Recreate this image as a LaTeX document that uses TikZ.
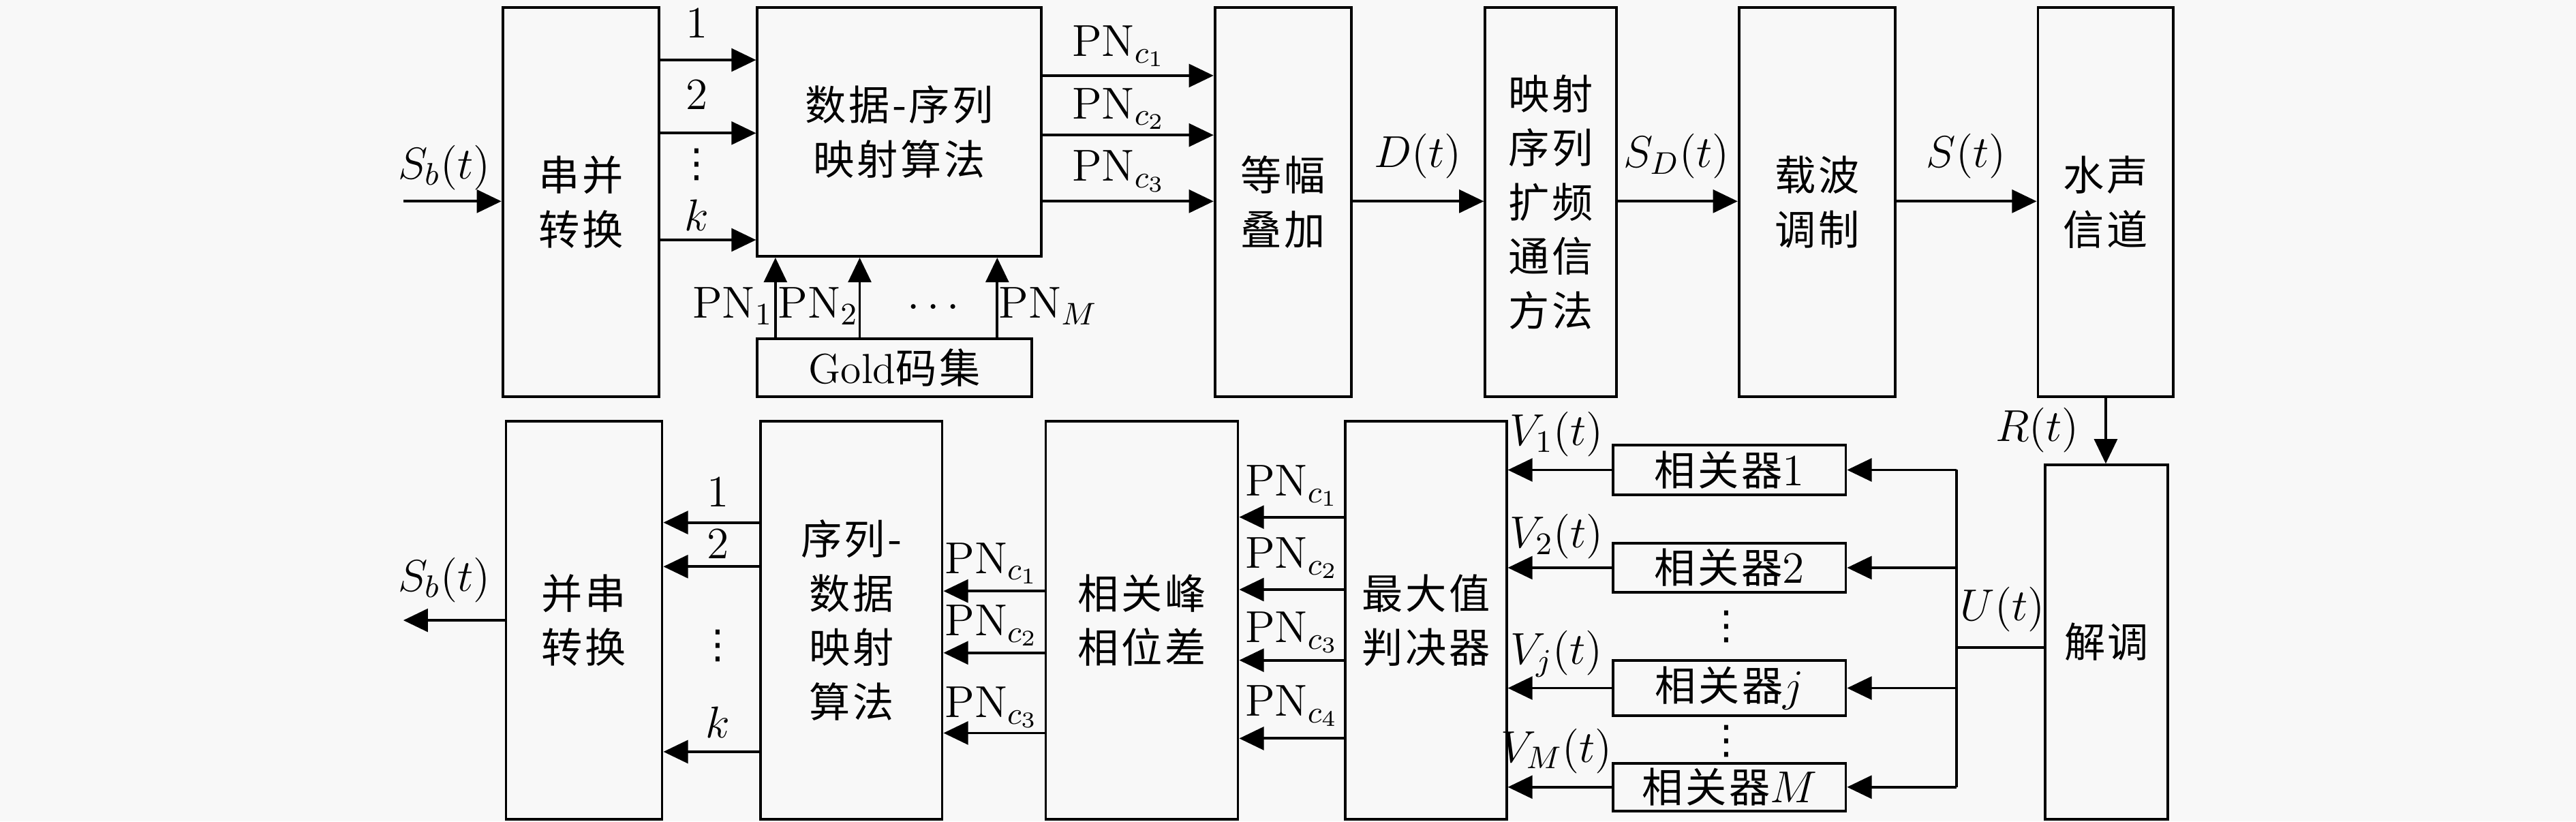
\RequirePackage{fix-cm}
\documentclass[tikz,border=0pt]{standalone}
\usepackage{fontspec}
\usetikzlibrary{arrows.meta}
\newfontfamily\cjkfam[LetterSpace=6]{Noto Sans CJK SC}
\newfontfamily\symfam{DejaVu Sans}
\newcommand\cjkfont{\fontsize{12.5}{16.5}\selectfont\cjkfam}
\newcommand\latfont{\fontsize{13.6}{16}\selectfont}
\newcommand\vdotsym{{\symfam\fontsize{12}{12}\selectfont ⋮}}
\definecolor{bgc}{RGB}{248,248,248}
\begin{document}
\begin{tikzpicture}[x=0.5pt,y=-0.5pt,
 box/.style={draw, line width=0.8pt, inner sep=0pt, align=center, font=\cjkfont},
 arr/.style={-{Triangle[length=7.5pt,width=7pt]}, line width=0.8pt},
 wire/.style={line width=0.8pt},
 lab/.style={inner sep=0pt, anchor=base, font=\latfont},
 dots/.style={inner sep=0pt}]
\fill[bgc] (0,0) rectangle (1568,500);
\useasboundingbox (0,0) rectangle (1568,500);

% ---- top row boxes
\node[box, minimum width=47.5pt, minimum height=118.5pt] (sp) at (353.5,123) {串并\\转换};
\node[box, minimum width=86.5pt, minimum height=75.75pt] (map) at (547.5,80.25) {数据-序列\\映射算法};
\node[box, minimum width=83.5pt, minimum height=17.75pt] (gold) at (544.5,223.75) {{\rmfamily\fontsize{12.8}{15}\selectfont Gold}码集};
\node[box, minimum width=41.5pt, minimum height=118.5pt] (eq) at (781,123) {等幅\\叠加};
\node[box, minimum width=40pt, minimum height=118.5pt] (ss) at (944,123) {映射\\序列\\扩频\\通信\\方法};
\node[box, minimum width=47.5pt, minimum height=118.5pt] (mod) at (1106,123) {载波\\调制};
\node[box, minimum width=41.25pt, minimum height=118.5pt] (ch) at (1281.75,123) {水声\\信道};

% ---- bottom row boxes
\node[box, minimum width=47.5pt, minimum height=121pt] (ps) at (355.5,377.5) {并串\\转换};
\node[box, minimum width=55.25pt, minimum height=121pt] (dmap) at (518.25,377.5) {序列-\\数据\\映射\\算法};
\node[box, minimum width=58.5pt, minimum height=121pt] (pk) at (695,377.5) {相关峰\\相位差};
\node[box, minimum width=49pt, minimum height=121pt] (mx) at (868,377.5) {最大值\\判决器};
\node[box, minimum width=70.75pt, minimum height=15pt] (c1) at (1052.75,286) {相关器{\latfont$1$}};
\node[box, minimum width=70.75pt, minimum height=15pt] (c2) at (1052.75,345.5) {相关器{\latfont$2$}};
\node[box, minimum width=70.75pt, minimum height=16.75pt] (cj) at (1052.75,418.75) {相关器{\latfont$j$}};
\node[box, minimum width=70.75pt, minimum height=14.5pt] (cM) at (1052.75,479) {相关器{\latfont$M$}};
\node[box, minimum width=37.25pt, minimum height=107.75pt] (dem) at (1282.25,390.75) {解调};

% ---- top row connectors
\coordinate (sbin) at (245.5,122.5);
\draw[arr] (sbin) -- (sbin -| sp.west);
\foreach \y in {36.5,81,146} \draw[arr] (sp.east |- 0,\y) -- (map.west |- 0,\y);
\foreach \y in {46,82.2,122.5} \draw[arr] (map.east |- 0,\y) -- (eq.west |- 0,\y);
\foreach \x in {472,523.3,607} \draw[arr] (gold.north -| \x,0) -- (map.south -| \x,0);
\draw[arr] (eq.east |- 0,122.5) -- (ss.west |- 0,122.5);
\draw[arr] (ss.east |- 0,122.5) -- (mod.west |- 0,122.5);
\draw[arr] (mod.east |- 0,122.5) -- (ch.west |- 0,122.5);
\draw[arr] (ch.south) -- (ch.south |- dem.north);

% ---- bottom row connectors
\coordinate (sbout) at (245.5,377.5);
\draw[arr] (ps.west |- sbout) -- (sbout);
\foreach \y in {318,344.8,457.5} \draw[arr] (dmap.west |- 0,\y) -- (ps.east |- 0,\y);
\foreach \y in {359.7,397.3,446.1} \draw[arr] (pk.west |- 0,\y) -- (dmap.east |- 0,\y);
\foreach \y in {314.7,358.8,401.8,449.4} \draw[arr] (mx.west |- 0,\y) -- (pk.east |- 0,\y);
\foreach \n in {c1,c2,cj,cM} \draw[arr] (\n.west) -- (\n.west -| mx.east);
\coordinate (bus) at (1191,394);
\draw[wire] (dem.west |- bus) -- (bus);
\draw[wire] (c1.east -| bus) -- (cM.east -| bus);
\foreach \n in {c1,c2,cj,cM} \draw[arr] (\n.east -| bus) -- (\n.east);

% ---- top labels
\node[lab] (lsbi) at (270.3,108.7) {$S_b(t)$};
\node[lab] (t1) at (424,23) {$1$};
\node[lab] (t2) at (424,66.7) {$2$};
\node[dots] (tv) at (424,100) {\vdotsym};
\node[lab] (tk) at (424,140.5) {$k$};
\node[lab] (pa1) at (681,34.1) {$\mathrm{PN}_{c_1}$};
\node[lab] (pa2) at (681,72.2) {$\mathrm{PN}_{c_2}$};
\node[lab] (pa3) at (681,110.3) {$\mathrm{PN}_{c_3}$};
\node[lab] (g1) at (446,193.7) {$\mathrm{PN}_1$};
\node[lab] (g2) at (498,193.7) {$\mathrm{PN}_2$};
\node[lab] (gd) at (568,193.7) {$\cdots$};
\node[lab] (gM) at (638,193.7) {$\mathrm{PN}_M$};
\node[lab] (ld) at (863,102) {$D(t)$};
\node[lab] (lsd) at (1020.3,102) {$S_D(t)$};
\node[lab] (ls) at (1196.8,102) {$S(t)$};

% ---- bottom labels
\node[lab] (lsbo) at (270.3,359.7) {$S_b(t)$};
\node[lab] (b1) at (437,308.4) {$1$};
\node[lab] (b2) at (437,339.8) {$2$};
\node[dots] (bv) at (437,393) {\vdotsym};
\node[lab] (bk) at (437,448.9) {$k$};
\node[lab] (pb1) at (603.5,348.9) {$\mathrm{PN}_{c_1}$};
\node[lab] (pb2) at (603.5,386.9) {$\mathrm{PN}_{c_2}$};
\node[lab] (pb3) at (603.5,436.5) {$\mathrm{PN}_{c_3}$};
\node[lab] (pc1) at (786.3,301.8) {$\mathrm{PN}_{c_1}$};
\node[lab] (pc2) at (786.3,345.6) {$\mathrm{PN}_{c_2}$};
\node[lab] (pc3) at (786.3,391) {$\mathrm{PN}_{c_3}$};
\node[lab] (pc4) at (786.3,435.7) {$\mathrm{PN}_{c_4}$};
\node[lab] (v1) at (947.5,271.2) {$V_1(t)$};
\node[lab] (v2) at (947.5,333.2) {$V_2(t)$};
\node[lab] (vj) at (947.5,404.3) {$V_j(t)$};
\node[lab] (vM) at (947.5,463.8) {$V_M(t)$};
\node[dots] (cv1) at (1051,381.5) {\vdotsym};
\node[dots] (cv2) at (1051,451) {\vdotsym};
\node[lab] (lr) at (1240,268.7) {$R(t)$};
\node[lab] (lu) at (1219,377.8) {$U(t)$};
\end{tikzpicture}
\end{document}
